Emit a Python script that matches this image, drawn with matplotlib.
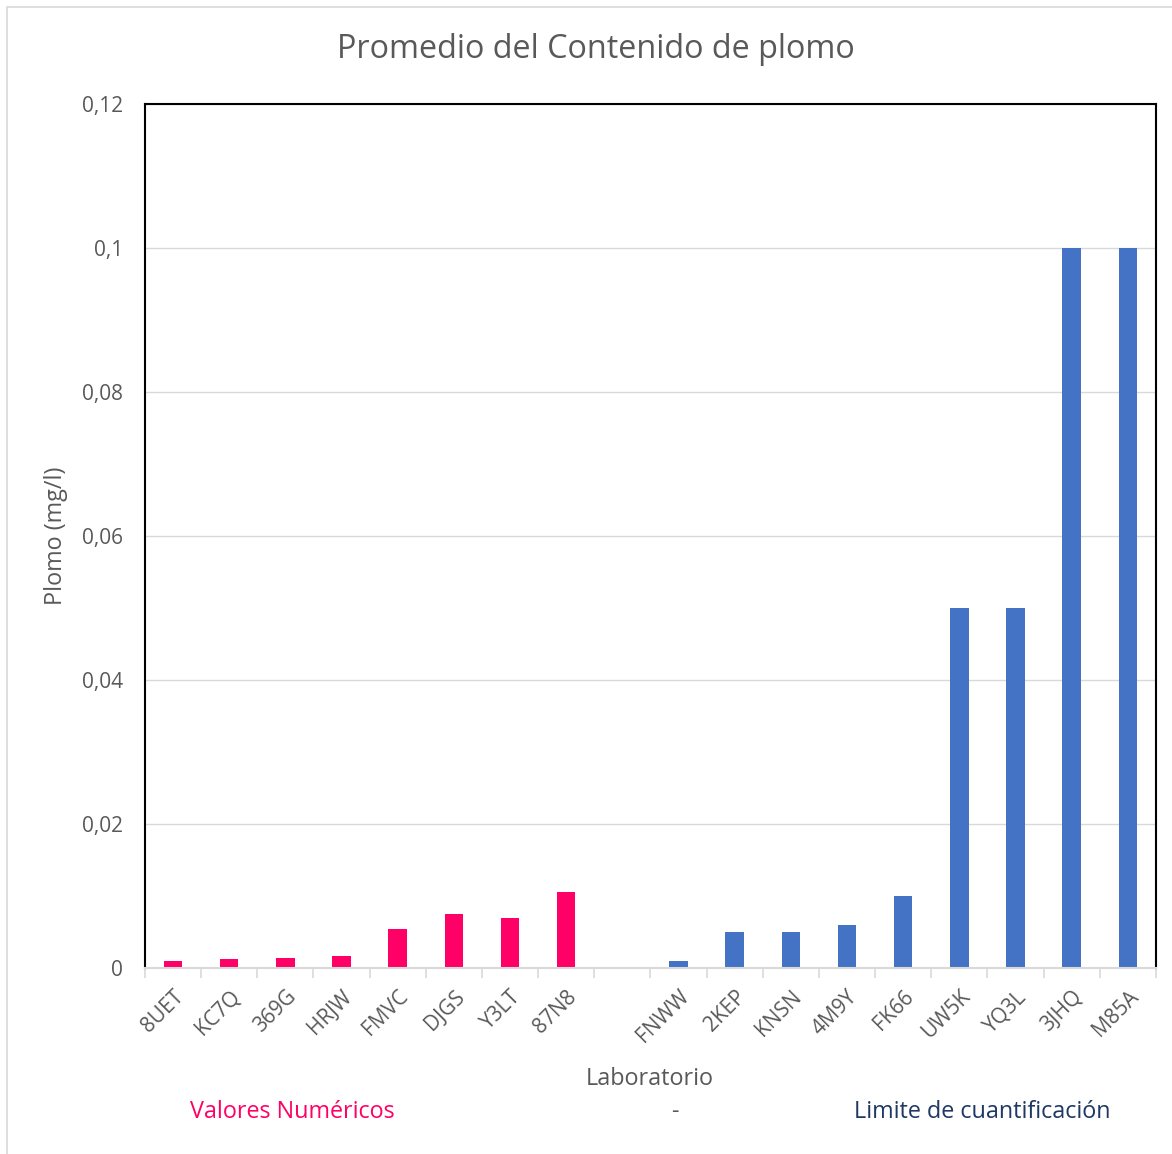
import matplotlib.pyplot as plt
from matplotlib.ticker import FuncFormatter, FixedLocator
from matplotlib.patches import Rectangle

# laboratories and mean lead content (mg/l); empty slot separates the two groups
labs_num = ['8UET', 'KC7Q', '369G', 'HRJW', 'FMVC', 'DJGS', 'Y3LT', '87N8']
vals_num = [0.0010, 0.0013, 0.0014, 0.0016, 0.0054, 0.0075, 0.0069, 0.0105]
labs_lim = ['FNWW', '2KEP', 'KNSN', '4M9Y', 'FK66', 'UW5K', 'YQ3L', '3JHQ', 'M85A']
vals_lim = [0.0009, 0.005, 0.005, 0.006, 0.01, 0.05, 0.05, 0.1, 0.1]

PINK = '#FF0066'
BLUE = '#4472C4'
GREY = '#595959'

plt.rcParams['font.family'] = ['Open Sans', 'DejaVu Sans']

fig = plt.figure(figsize=(11.72, 11.54), dpi=100)
ax = fig.add_axes([0.1237, 0.1612, 0.8626, 0.7487])

labels = labs_num + [''] + labs_lim
x_num = list(range(len(labs_num)))
x_lim = [len(labs_num) + 1 + i for i in range(len(labs_lim))]

ax.bar(x_num, vals_num, width=0.33, color=PINK, zorder=3)
ax.bar(x_lim, vals_lim, width=0.33, color=BLUE, zorder=3)

ax.set_xlim(-0.5, len(labels) - 0.5)
ax.set_ylim(0, 0.12)
ax.set_yticks([0, 0.02, 0.04, 0.06, 0.08, 0.1, 0.12])
ax.yaxis.set_major_formatter(FuncFormatter(lambda v, p: ('%g' % round(v, 4)).replace('.', ',')))
ax.grid(axis='y', color='#D9D9D9', lw=1, zorder=0)

ax.set_xticks(range(len(labels)))
ax.set_xticklabels(labels, rotation=45, ha='right', va='top', rotation_mode='anchor')
ax.xaxis.set_minor_locator(FixedLocator([i + 0.5 for i in range(-1, len(labels))]))
ax.tick_params(axis='x', which='major', length=0, pad=13, labelsize=15, labelcolor=GREY)
ax.tick_params(axis='x', which='minor', length=7, width=1.2, color='#D9D9D9')
ax.tick_params(axis='y', length=0, pad=16, labelsize=15, labelcolor=GREY)

for s in ['top', 'left', 'right']:
    ax.spines[s].set_color('black')
    ax.spines[s].set_linewidth(1.5)
ax.spines['bottom'].set_color('#D9D9D9')
ax.spines['bottom'].set_linewidth(1.5)
ax.spines['bottom'].set_zorder(4)

ax.set_ylabel('Plomo (mg/l)', fontsize=16.8, color=GREY, labelpad=10)
fig.text(0.5547, 1 - 1079 / 1154, 'Laboratorio', fontsize=16.8, color=GREY, ha='center', va='center')
fig.text(0.5085, 1 - 50 / 1154, 'Promedio del Contenido de plomo', fontsize=23.3, color=GREY,
         ha='center', va='center')

# group captions under the axis
fig.text(292 / 1172, 1 - 1112 / 1154, 'Valores Numéricos', fontsize=16.8, color=PINK, ha='center', va='center')
fig.text(675 / 1172, 1 - 1112 / 1154, '-', fontsize=16.8, color=GREY, ha='center', va='center')
fig.text(982 / 1172, 1 - 1112 / 1154, 'Limite de cuantificación', fontsize=16.8, color='#1F3864',
         ha='center', va='center')

# outer chart frame
fig.patches.append(Rectangle((7 / 1172, -0.01), 1.02, 1 - 7 / 1154 + 0.01, transform=fig.transFigure,
                             fill=False, edgecolor='#D9D9D9', lw=1.2))

fig.savefig('out.png', dpi=100)
